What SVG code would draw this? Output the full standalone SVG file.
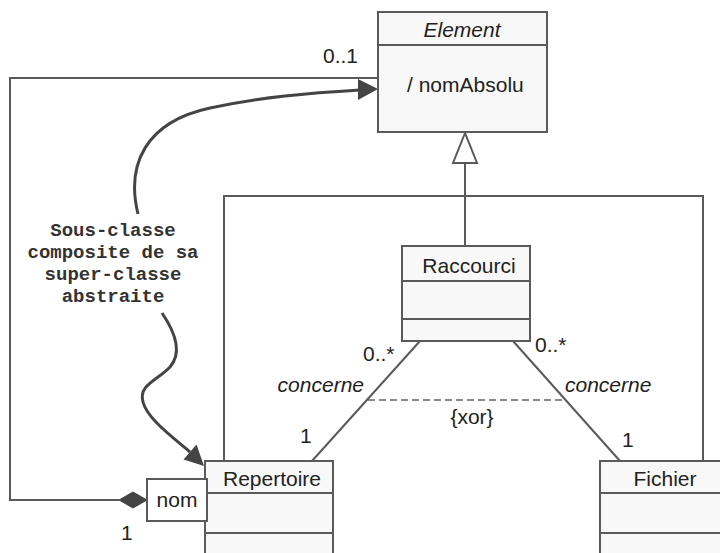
<svg xmlns="http://www.w3.org/2000/svg" width="720" height="553" viewBox="0 0 720 553">
<style>
.box{fill:#f8f8f8;stroke:#5a5a5a;stroke-width:2}
.ln{fill:none;stroke:#5a5a5a;stroke-width:2}
.t{font-family:"Liberation Sans",Arial,sans-serif;font-size:21px;fill:#222}
.i{font-style:italic}
.m{font-family:"Liberation Mono","Courier New",monospace;font-size:19px;font-weight:bold;fill:#333}
.cv{fill:none;stroke:#444;stroke-width:3}
.ah{fill:#444;stroke:none}
</style>
<rect width="720" height="553" fill="#ffffff"/>
<g id="connectors">
  <polyline class="ln" points="378,78 10,78 10,500 119,500"/>
  <polygon points="119,500 133,492 147,500 133,508" fill="#444" stroke="#444" stroke-width="1"/>
  <line class="ln" x1="465" y1="246" x2="465" y2="163"/>
  <polygon points="465,133 453,163 477,163" fill="#ffffff" stroke="#5a5a5a" stroke-width="2"/>
  <polyline class="ln" points="224,461 224,196 703,196 703,461"/>
  <line class="ln" x1="420" y1="341" x2="312" y2="461"/>
  <line class="ln" x1="513" y1="341" x2="620" y2="461"/>
  <line x1="368" y1="400" x2="564" y2="400" stroke="#666" stroke-width="1.5" stroke-dasharray="7,4"/>
  <text class="t" x="323" y="63">0..1</text>
  <text class="t" x="363" y="361">0..*</text>
  <text class="t" x="535" y="352">0..*</text>
  <text class="t i" x="364" y="392" text-anchor="end">concerne</text>
  <text class="t i" x="565" y="392">concerne</text>
  <text class="t" x="472" y="424" text-anchor="middle">{xor}</text>
  <text class="t" x="300" y="443">1</text>
  <text class="t" x="622" y="447">1</text>
  <text class="t" x="121" y="540">1</text>
</g>
<g id="note">
  <text class="m" text-anchor="middle" x="113" y="236">Sous-classe</text>
  <text class="m" text-anchor="middle" x="113" y="258">composite de sa</text>
  <text class="m" text-anchor="middle" x="113" y="280">super-classe</text>
  <text class="m" text-anchor="middle" x="113" y="302">abstraite</text>
  <path class="cv" d="M138,214 C126,165 145,122 210,108 C260,97 310,93 360,90"/>
  <polygon class="ah" points="378,89 358,79 358,100"/>
  <path class="cv" d="M162,313 C175,332 183,352 170,367 C158,380 138,385 143,402 C147,418 170,435 190,452"/>
  <polygon class="ah" points="204,466 183.5,459.6 196.5,444.4"/>
</g>
<g id="Element">
  <rect class="box" x="378" y="12" width="169" height="120"/>
  <line class="ln" x1="378" y1="45" x2="547" y2="45"/>
  <text class="t i" x="462" y="37" text-anchor="middle">Element</text>
  <text class="t" x="407" y="92">/ nomAbsolu</text>
</g>
<g id="Raccourci">
  <rect class="box" x="402" y="246" width="128" height="95"/>
  <line class="ln" x1="402" y1="281" x2="530" y2="281"/>
  <line class="ln" x1="402" y1="319" x2="530" y2="319"/>
  <text class="t" x="469" y="273" text-anchor="middle">Raccourci</text>
</g>
<g id="Repertoire">
  <rect class="box" x="205" y="461" width="128" height="120"/>
  <line class="ln" x1="205" y1="493" x2="333" y2="493"/>
  <line class="ln" x1="205" y1="533" x2="333" y2="533"/>
  <text class="t" x="272" y="486" text-anchor="middle">Repertoire</text>
</g>
<g id="nom">
  <rect x="147" y="479" width="60" height="42" fill="#ffffff" stroke="#5a5a5a" stroke-width="2"/>
  <text class="t" x="177" y="507" text-anchor="middle">nom</text>
</g>
<g id="Fichier">
  <rect class="box" x="600" y="461" width="130" height="120"/>
  <line class="ln" x1="600" y1="493" x2="730" y2="493"/>
  <line class="ln" x1="600" y1="533" x2="730" y2="533"/>
  <text class="t" x="665" y="486" text-anchor="middle">Fichier</text>
</g>
</svg>
